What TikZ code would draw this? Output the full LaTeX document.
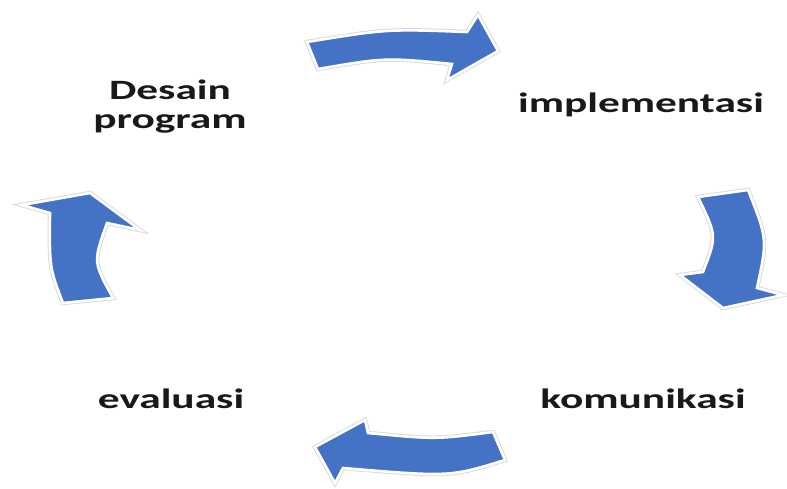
\documentclass[tikz,border=0pt]{standalone}
\usepackage{fontspec}
\setmainfont{Carlito}
\definecolor{arrowblue}{HTML}{4472C4}
\tikzset{
  halo/.style={draw=black!14, line width=4.5pt, line join=miter},
  blockarrow/.style={fill=arrowblue, draw=white, line width=2.6pt, line join=miter},
  lbl/.style={font=\fontsize{28}{29}\selectfont\bfseries, xscale=1.55, inner sep=0pt, text=black!90},
}
\begin{document}
\begin{tikzpicture}[x=1pt,y=-1pt]
\path[use as bounding box, fill=white] (0,0) rectangle (787,489);
\foreach \s in {halo,blockarrow}{
% top arrow
\path[\s] (307,42) .. controls (387,29) .. (467,32) -- (478,15) -- (498,51) -- (447,80) -- (452,64)
  .. controls (385,57.5) .. (318,69) -- cycle;
% right arrow
\path[\s] (698,197) -- (748,190) .. controls (767.5,239) .. (757,288) -- (783,295) -- (723,308)
  -- (680,275) -- (703,272) .. controls (717,236) .. (698,197) -- cycle;
% bottom arrow
\path[\s] (493,432) .. controls (435.5,439.5) .. (368,433) -- (365,420) -- (315,447) -- (335,483)
  -- (343,468) .. controls (450,477) .. (505,460) -- cycle;
% left arrow
\path[\s] (90,193) -- (140,230) -- (107,223) .. controls (93,262) .. (113,298) -- (63,303)
  .. controls (49.5,268) .. (50,213) -- (22,205) -- cycle;
}
\node[lbl, align=center] (desain) at (170,107) {Desain\\program};
\node[lbl, anchor=base] (impl) at (641,113) {implementasi};
\node[lbl, anchor=base] (komu) at (643,408) {komunikasi};
\node[lbl, anchor=base] (eval) at (171,408) {evaluasi};
\end{tikzpicture}
\end{document}
